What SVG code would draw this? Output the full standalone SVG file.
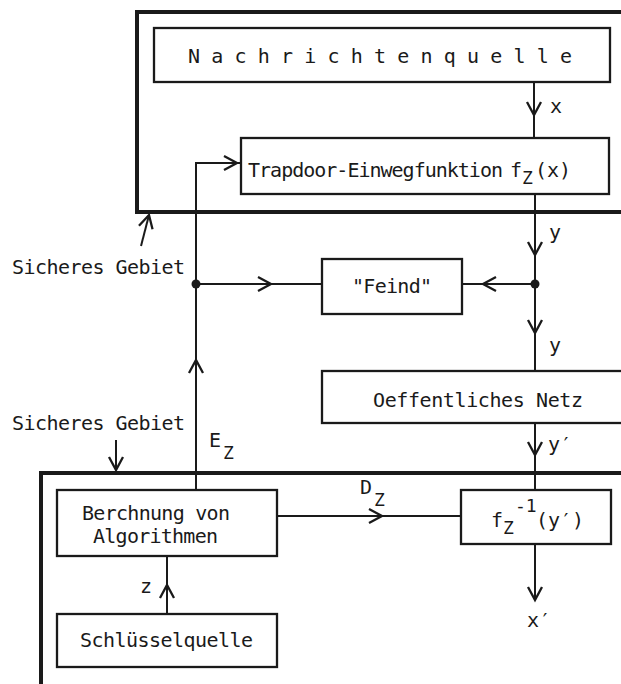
<svg xmlns="http://www.w3.org/2000/svg" xmlns:xlink="http://www.w3.org/1999/xlink" width="621" height="684" viewBox="0 0 621 684">
  <style>
    .box { fill: #fff; stroke: #1a1a1a; stroke-width: 2.3; }
    .area { fill: none; stroke: #1a1a1a; stroke-width: 4; }
    .line { fill: none; stroke: #1a1a1a; stroke-width: 2; }
    .chev { fill: none; stroke: #1a1a1a; stroke-width: 2.3; stroke-linejoin: miter; }
    .dot { fill: #1a1a1a; }
    text { font-family: "DejaVu Sans Mono", "Liberation Mono", monospace; font-size: 20px; fill: #1a1a1a; }
    .sub { font-size: 18px; }
  </style>
  <defs>
    <path id="chev" class="chev" d="M-13,-7 L0,0 L-13,7"/>
  </defs>
  <rect x="0" y="0" width="621" height="684" fill="#fff"/>

  <g id="areas">
    <path id="area-top" class="area" d="M630 12 H137 V212 H630"/>
    <path id="area-bottom" class="area" d="M630 473 H41 V690"/>
  </g>

  <g id="connectors">
    <path class="line" d="M534 82 V138"/>
    <use xlink:href="#chev" href="#chev" transform="translate(534,115) rotate(90)"/>
    <path class="line" d="M535 194 V371"/>
    <use xlink:href="#chev" href="#chev" transform="translate(535,255) rotate(90)"/>
    <use xlink:href="#chev" href="#chev" transform="translate(535,333) rotate(90)"/>
    <path class="line" d="M535 284 H462"/>
    <use xlink:href="#chev" href="#chev" transform="translate(483,284) rotate(180)"/>
    <circle class="dot" cx="535" cy="284" r="4.5"/>
    <path class="line" d="M196 284 H322"/>
    <use xlink:href="#chev" href="#chev" transform="translate(271,284)"/>
    <circle class="dot" cx="196" cy="284" r="4.5"/>
    <path class="line" d="M196 490 V163 H241"/>
    <use xlink:href="#chev" href="#chev" transform="translate(196,360) rotate(-90)"/>
    <use xlink:href="#chev" href="#chev" transform="translate(237,163)"/>
    <path class="line" d="M535 423 V490"/>
    <use xlink:href="#chev" href="#chev" transform="translate(535,455) rotate(90)"/>
    <path class="line" d="M277 516 H461"/>
    <use xlink:href="#chev" href="#chev" transform="translate(382,516)"/>
    <path class="line" d="M167 614 V556"/>
    <use xlink:href="#chev" href="#chev" transform="translate(167,585) rotate(-90)"/>
    <path class="line" d="M535 544 V600"/>
    <use xlink:href="#chev" href="#chev" transform="translate(535,600) rotate(90)"/>
    <path class="line" d="M141 246 L149 215"/>
    <use xlink:href="#chev" href="#chev" transform="translate(149,215) rotate(-75.5)"/>
    <path class="line" d="M116 440 V470"/>
    <use xlink:href="#chev" href="#chev" transform="translate(116,470) rotate(90)"/>
  </g>

  <g id="labels">
    <text x="550" y="113">x</text>
    <text x="549" y="239">y</text>
    <text x="549" y="352">y</text>
    <text x="548" y="451">y′</text>
    <text x="527" y="627">x′</text>
    <text x="209" y="447">E</text>
    <text class="sub" x="223" y="459">Z</text>
    <text x="360" y="494">D</text>
    <text class="sub" x="374" y="506">Z</text>
    <text x="140" y="593">z</text>
    <text x="12" y="274" textLength="173">Sicheres Gebiet</text>
    <text x="12" y="430" textLength="173">Sicheres Gebiet</text>
  </g>

  <g id="nachrichtenquelle">
    <rect class="box" x="154" y="28" width="456" height="54"/>
    <text x="188" y="63" textLength="384">N a c h r i c h t e n q u e l l e</text>
  </g>

  <g id="trapdoor">
    <rect class="box" x="241" y="138" width="368" height="56"/>
    <text x="248" y="177"><tspan textLength="255">Trapdoor-Einwegfunktion</tspan><tspan x="510">f</tspan><tspan class="sub" x="522" y="184">Z</tspan><tspan x="535" y="177">(x)</tspan></text>
  </g>

  <g id="feind">
    <rect class="box" x="322" y="259" width="140" height="55"/>
    <text x="352" y="293" textLength="80">"Feind"</text>
  </g>

  <g id="netz">
    <rect class="box" x="322" y="371" width="320" height="52"/>
    <text x="373" y="407" textLength="210">Oeffentliches Netz</text>
  </g>

  <g id="berechnung">
    <rect class="box" x="57" y="490" width="220" height="66"/>
    <text x="82" y="520" textLength="148">Berchnung von</text>
    <text x="93" y="543" textLength="125">Algorithmen</text>
  </g>

  <g id="schluesselquelle">
    <rect class="box" x="57" y="614" width="220" height="53"/>
    <text x="80" y="647" textLength="173">Schlüsselquelle</text>
  </g>

  <g id="inverse">
    <rect class="box" x="461" y="490" width="150" height="54"/>
    <text x="491" y="527">f<tspan class="sub" x="503" y="534">Z</tspan><tspan class="sub" x="515" y="512">-1</tspan><tspan x="536" y="527">(y′)</tspan></text>
  </g>
</svg>
